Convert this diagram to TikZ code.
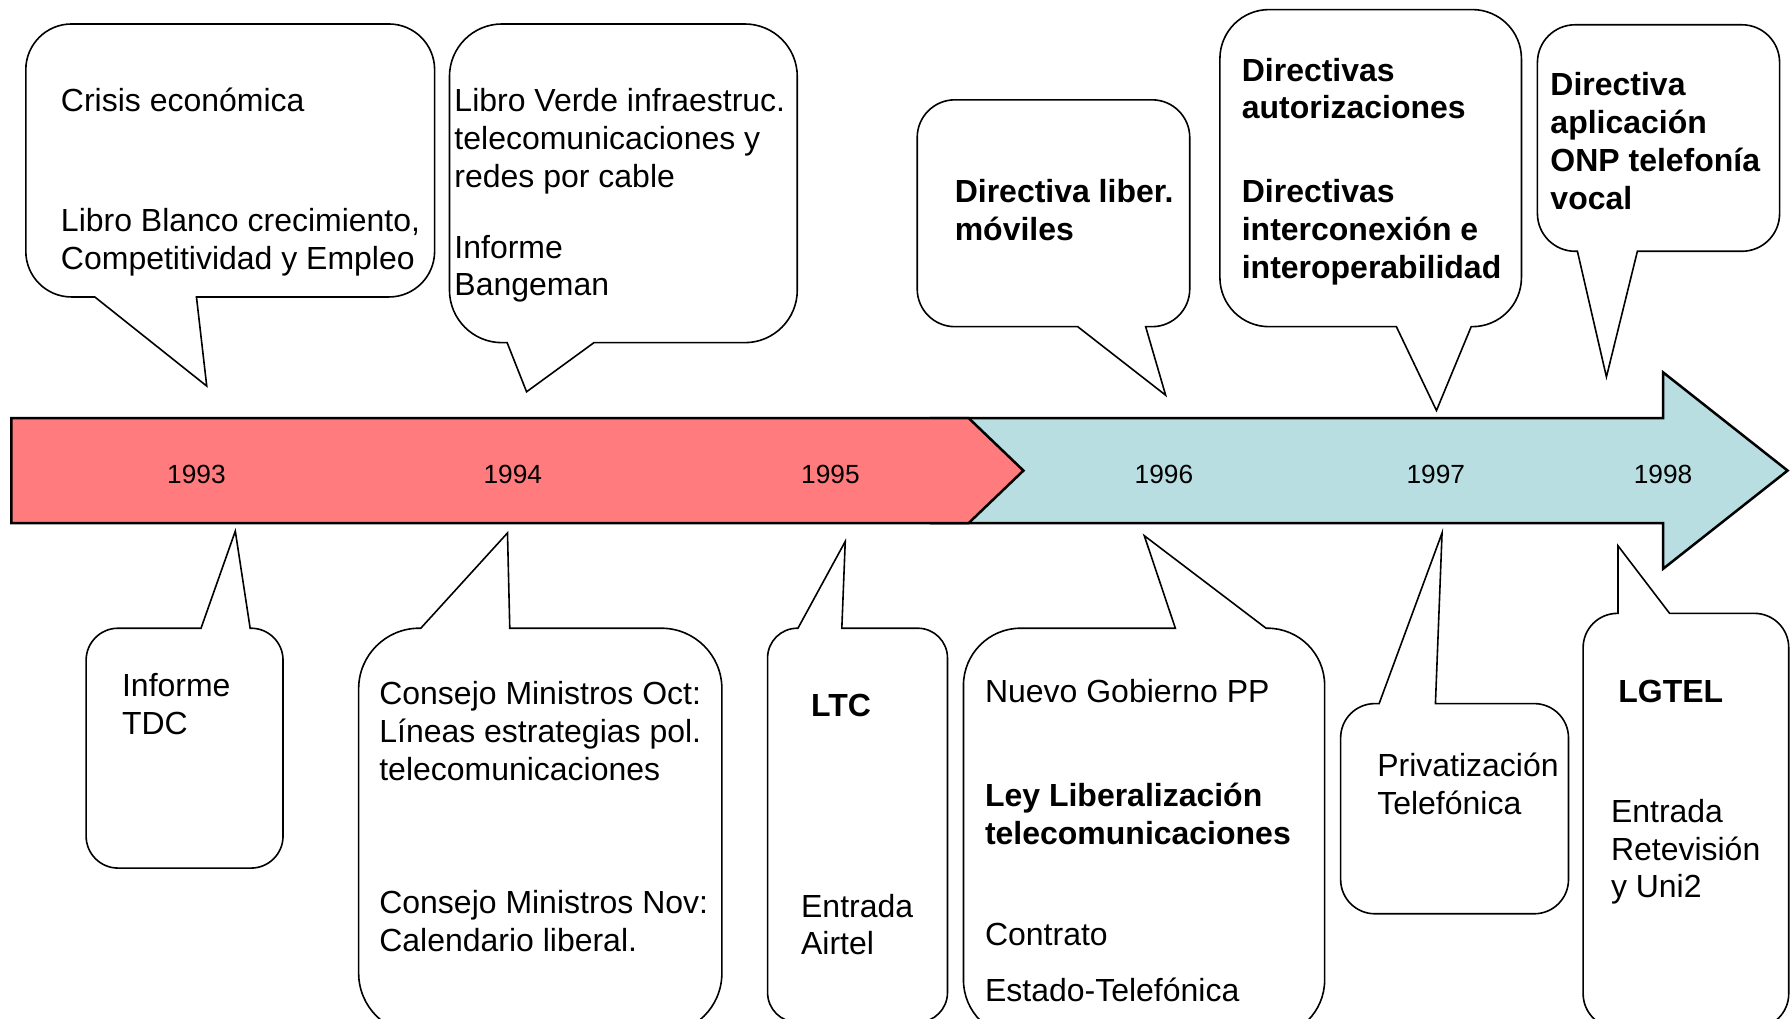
\documentclass[tikz,border=0pt]{standalone}
\usepackage{fontspec}
\setmainfont{Liberation Sans}

\definecolor{redbar}{HTML}{FF7B7D}
\definecolor{bluebar}{HTML}{B8DEE2}

\tikzstyle{bar} = [draw, line width=1.1pt, line join=miter]
\tikzstyle{bubble} = [draw, fill=white, line width=0.7pt]
\tikzstyle{txt} = [anchor=base west, inner sep=0pt, align=left,
    font=\fontsize{14}{16.5}\selectfont]
\tikzstyle{boldtxt} = [txt, font=\fontsize{14}{16.5}\selectfont\bfseries]
\tikzstyle{yeartxt} = [anchor=base, inner sep=0pt, font=\fontsize{11.5}{13}\selectfont]

\begin{document}
\begin{tikzpicture}[x=0.5pt, y=-0.5pt]

    \path [use as bounding box, clip] (0,0) rectangle (1568,892);

    \draw [bar, fill=bluebar] (815,366) -- (1456,366) -- (1456,326) -- (1565,412)
        -- (1456,498) -- (1456,458) -- (815,458) -- cycle;
    \draw [bar, fill=redbar] (10,366) -- (848,366) -- (896,412) -- (848,458)
        -- (10,458) -- cycle;

    \node [yeartxt] (y1993) at (172,423.5) {1993};
    \node [yeartxt] (y1994) at (449,423.5) {1994};
    \node [yeartxt] (y1995) at (727,423.5) {1995};
    \node [yeartxt] (y1996) at (1019,423.5) {1996};
    \node [yeartxt] (y1997) at (1257,423.5) {1997};
    \node [yeartxt] (y1998) at (1456,423.5) {1998};

    \draw [bubble] (181,338) -- (83,260) [rounded corners=20pt] -- (22.6,260)
        -- (22.6,21) -- (380.5,21) -- (380.5,260) [sharp corners] -- (172,260) -- cycle;
    \draw [bubble] (461,343) -- (444,300) [rounded corners=23pt] -- (393.5,300)
        -- (393.5,21) -- (698,21) -- (698,300) [sharp corners] -- (520,300) -- cycle;
    \draw [bubble] (1020.5,346) -- (943.5,286) [rounded corners=16.5pt] -- (803,286)
        -- (803,87.4) -- (1041.6,87.4) -- (1041.6,286) [sharp corners] -- (1003,286) -- cycle;
    \draw [bubble] (1257.6,359.4) -- (1222.5,286) [rounded corners=21.5pt] -- (1068,286)
        -- (1068,8.4) -- (1332,8.4) -- (1332,286) [sharp corners] -- (1288,286) -- cycle;
    \draw [bubble] (1406.4,330) -- (1381,220) [rounded corners=16.5pt] -- (1346,220)
        -- (1346,21.7) -- (1558,21.7) -- (1558,220) [sharp corners] -- (1433.5,220) -- cycle;

    \draw [bubble] (206,465) -- (219,550) [rounded corners=14pt] -- (247.8,550)
        -- (247.8,760) -- (75.4,760) -- (75.4,550) [sharp corners] -- (176,550) -- cycle;
    \draw [bubble] (444.3,466.6) -- (446.3,550) [rounded corners=26.5pt] -- (632,550)
        -- (632,905) -- (314,905) -- (314,550) [sharp corners] -- (368.4,550) -- cycle;
    \draw [bubble] (740,474) -- (737,550) [rounded corners=13pt] -- (829.5,550)
        -- (829.5,895) -- (672,895) -- (672,550) [sharp corners] -- (698.6,550) -- cycle;
    \draw [bubble] (1001.8,469) -- (1108.4,550) [rounded corners=25pt] -- (1159.7,550)
        -- (1159.7,908) -- (843.5,908) -- (843.5,550) [sharp corners] -- (1029,550) -- cycle;
    \draw [bubble] (1262.5,466.6) -- (1256.7,616) [rounded corners=15pt] -- (1373.2,616)
        -- (1373.2,800) -- (1173.7,800) -- (1173.7,616) [sharp corners] -- (1207.4,616) -- cycle;
    \draw [bubble] (1416.5,477.8) -- (1461.7,537) [rounded corners=15pt] -- (1566,537)
        -- (1566,900) -- (1386,900) -- (1386,537) [sharp corners] -- (1416.5,537) -- cycle;

    \node [txt] (crisis) at (53,98) {Crisis económica};
    \node [txt] (libroblanco) at (53,236) {Libro Blanco crecimiento,\\Competitividad y Empleo};
    \node [txt] (libroverde) at (397.5,164) {Libro Verde infraestruc.\\telecomunicaciones y\\redes por cable};
    \node [txt] (bangeman) at (397.5,259) {Informe\\Bangeman};
    \node [boldtxt] (moviles) at (835.5,210.4) {Directiva liber.\\móviles};
    \node [boldtxt] (autoriz) at (1086.8,104) {Directivas\\autorizaciones};
    \node [boldtxt] (interc) at (1086.8,243.4) {Directivas\\interconexión e\\interoperabilidad};
    \node [boldtxt] (onp) at (1357,183) {Directiva\\aplicación\\ONP telefonía\\vocal};

    \node [txt] (tdc) at (106.5,643) {Informe\\TDC};
    \node [txt] (consejooct) at (331.7,683) {Consejo Ministros Oct:\\Líneas estrategias pol.\\telecomunicaciones};
    \node [txt] (consejonov) at (331.7,833) {Consejo Ministros Nov:\\Calendario liberal.};
    \node [boldtxt] (ltc) at (709.7,627.6) {LTC};
    \node [txt] (airtel) at (701,836) {Entrada\\Airtel};
    \node [txt] (gobierno) at (862,614.7) {Nuevo Gobierno PP};
    \node [boldtxt] (ley) at (862,739) {Ley Liberalización\\telecomunicaciones};
    \node [txt] (contrato) at (862,827.7) {Contrato};
    \node [txt] (estado) at (862,877) {Estado-Telefónica};
    \node [txt] (privat) at (1205.4,713) {Privatización\\Telefónica};
    \node [boldtxt] (lgtel) at (1416.5,614.7) {LGTEL};
    \node [txt] (retevision) at (1410,786) {Entrada\\Retevisión\\y Uni2};

\end{tikzpicture}
\end{document}
